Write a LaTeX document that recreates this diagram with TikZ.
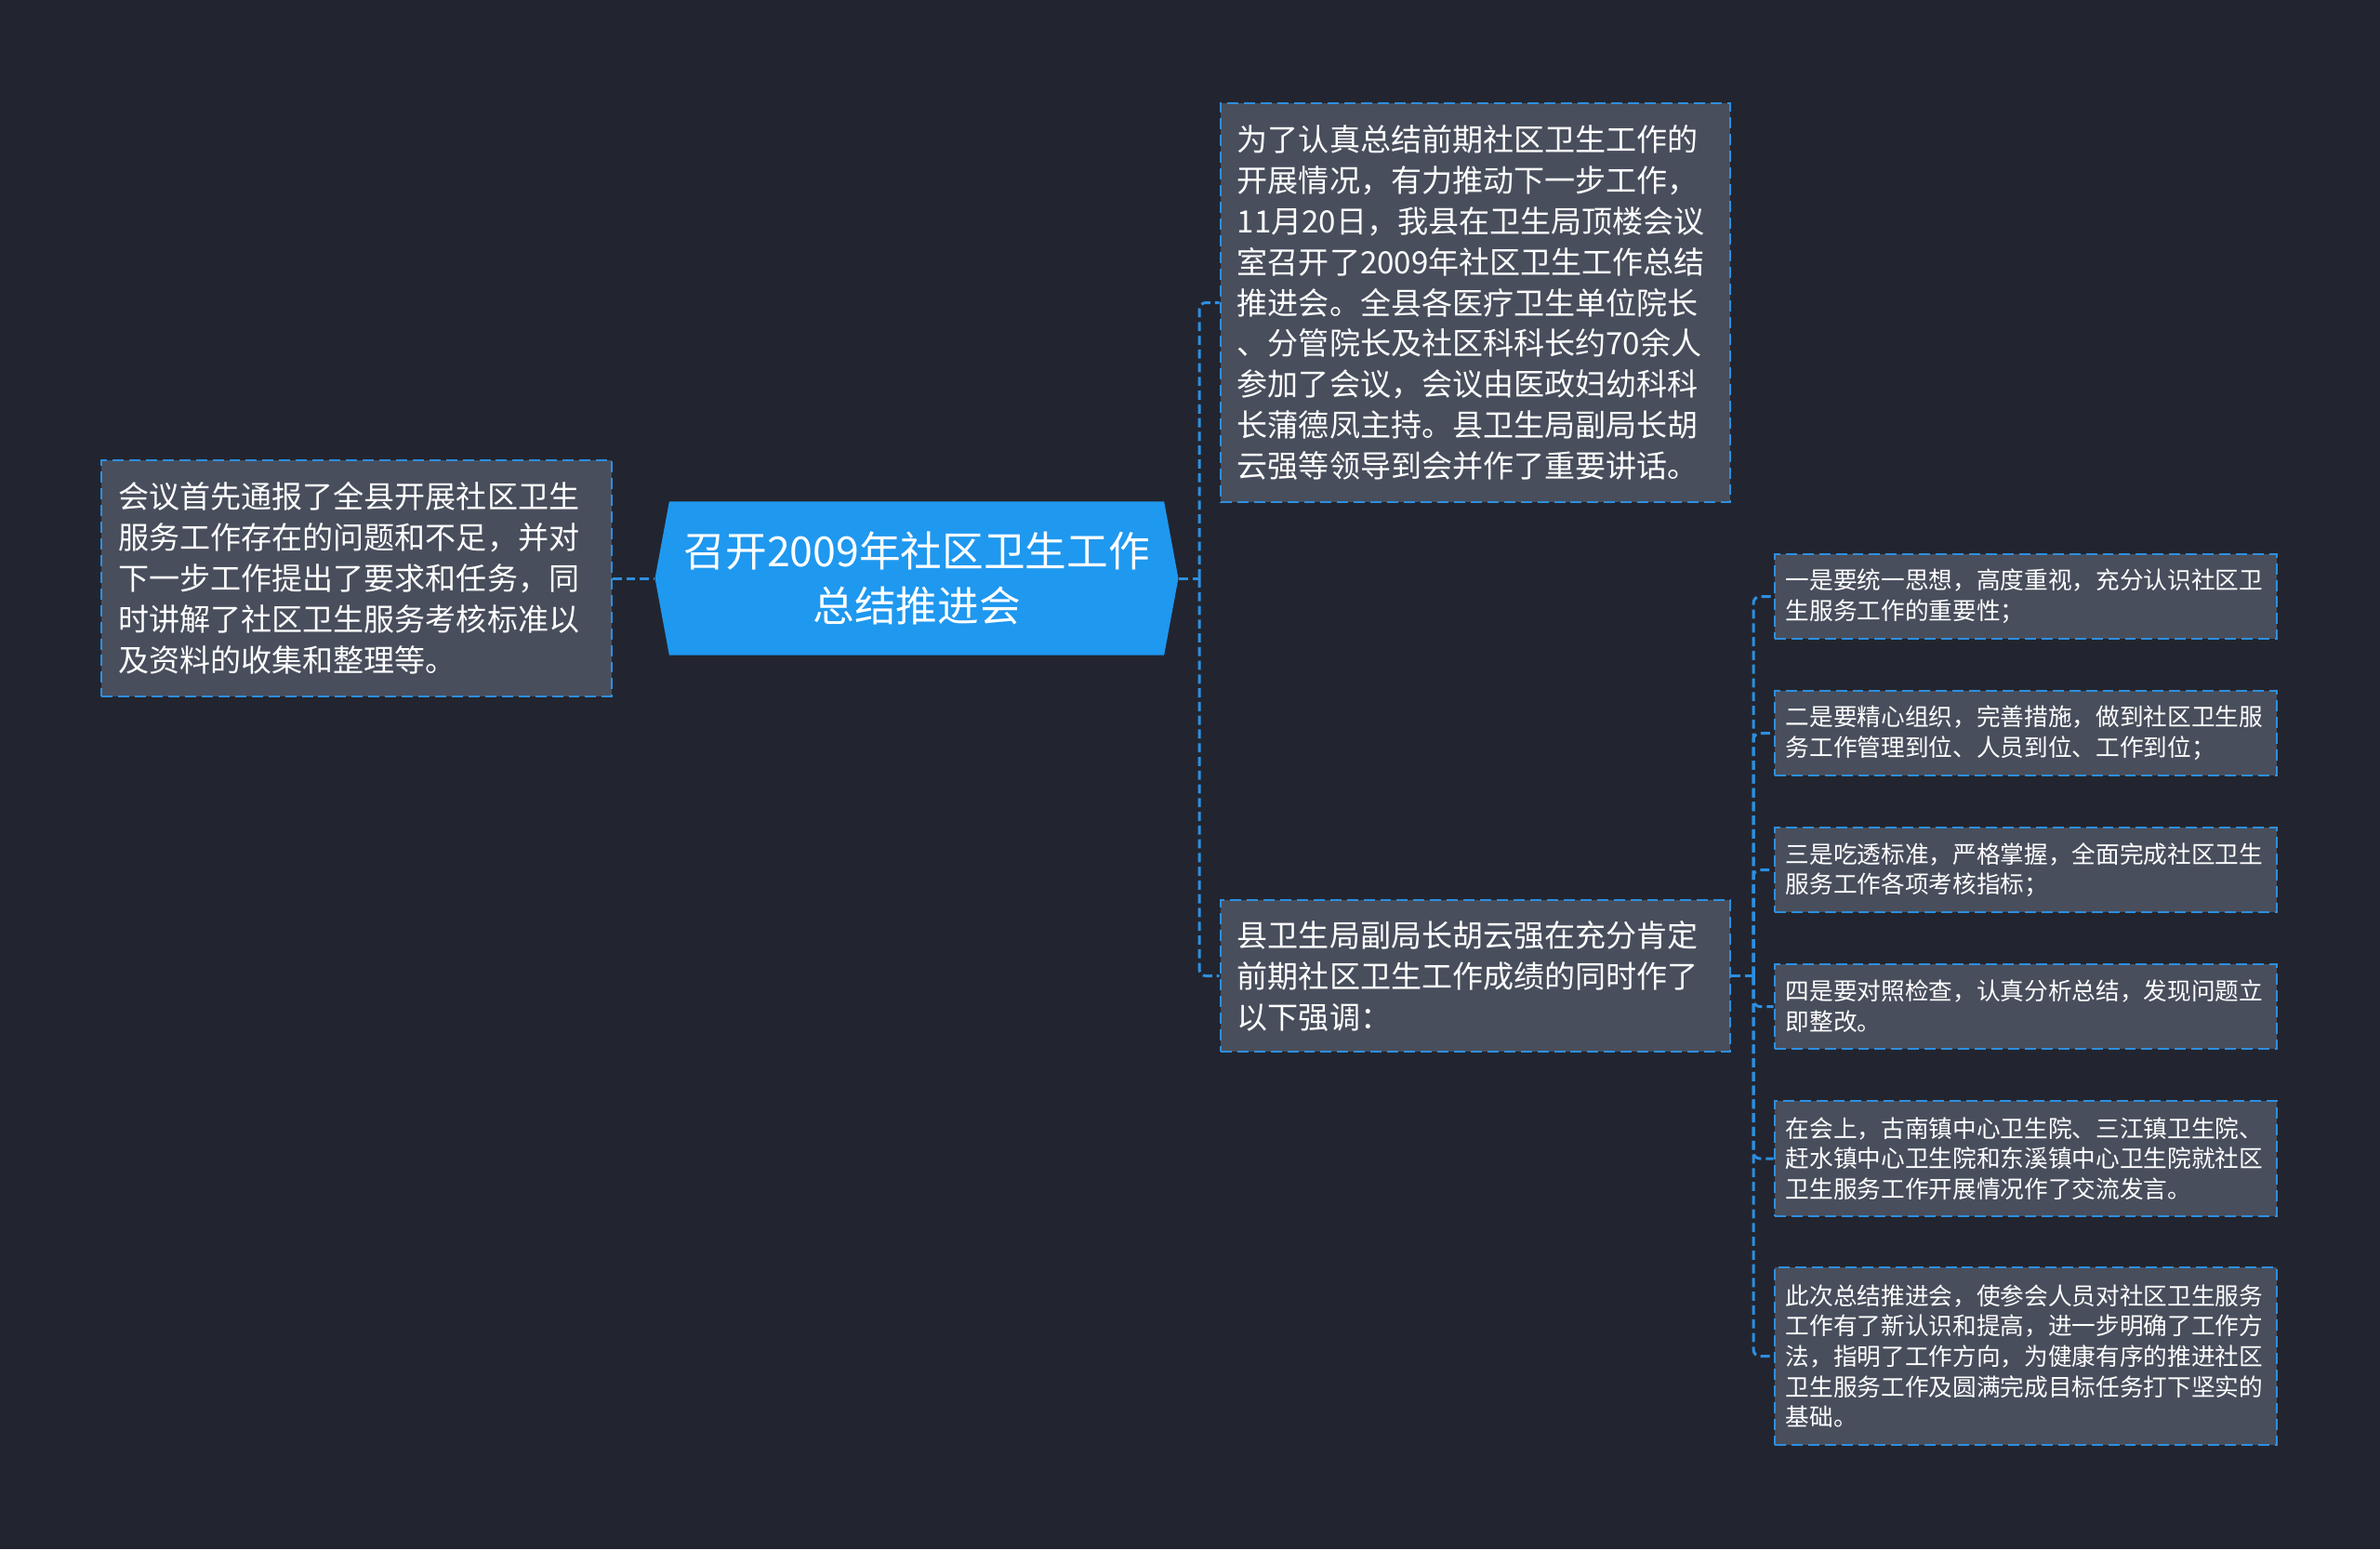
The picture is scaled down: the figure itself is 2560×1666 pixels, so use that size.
\documentclass[tikz,border=0pt]{standalone}
\usepackage{fontspec}
\setmainfont{Noto Sans CJK SC}
\usepackage{tikz}
\usetikzlibrary{shapes.symbols}
\definecolor{bgdark}{HTML}{22252F}
\definecolor{boxgray}{HTML}{484E5C}
\definecolor{linkblue}{HTML}{2D8FE0}
\definecolor{topicblue}{HTML}{1F98EF}

\tikzset{
  leaf/.style={draw=linkblue, fill=boxgray, text=white, line width=0.65pt,
    dash pattern=on 3.4pt off 1.7pt, align=left, inner xsep=0.18cm, inner ysep=0pt,
    text width=5.12cm, font=\fontsize{9.4}{12.5}\selectfont},
  smallleaf/.style={leaf, inner xsep=0.12cm, text width=5.16cm,
    font=\fontsize{7.3}{9.3}\selectfont},
  link/.style={draw=linkblue, line width=0.85pt, dash pattern=on 2.8pt off 1.4pt, rounded corners=2pt}
}

\begin{document}
\begin{tikzpicture}[x=0.01cm, y=-0.01cm]
  \fill[bgdark] (0,0) rectangle (2560,1666);
  \useasboundingbox (0,0) rectangle (2560,1666);

  \node[shape=signal, signal to=east and west, signal pointer angle=159, fill=topicblue, text=white,
    align=center, text width=5.0cm, inner xsep=0.16cm, minimum height=1.65cm,
    font=\fontsize{12.7}{17}\selectfont] (topic) at (986,622) {召开2009年社区卫生工作\\总结推进会};

  \node[leaf, minimum height=2.54cm] (b0) at (383.5,622) {会议首先通报了全县开展社区卫生\\服务工作存在的问题和不足，并对\\下一步工作提出了要求和任务，同\\时讲解了社区卫生服务考核标准以\\及资料的收集和整理等。};
  \node[leaf, minimum height=4.29cm] (b1) at (1587,325.5) {为了认真总结前期社区卫生工作的\\开展情况，有力推动下一步工作，\\11月20日，我县在卫生局顶楼会议\\室召开了2009年社区卫生工作总结\\推进会。全县各医疗卫生单位院长\\、分管院长及社区科科长约70余人\\参加了会议，会议由医政妇幼科科\\长蒲德凤主持。县卫生局副局长胡\\云强等领导到会并作了重要讲话。};
  \node[leaf, minimum height=1.63cm] (b2) at (1587,1049.5) {县卫生局副局长胡云强在充分肯定\\前期社区卫生工作成绩的同时作了\\以下强调：};

  \node[smallleaf, minimum height=0.91cm] (r1) at (2179,641.5) {一是要统一思想，高度重视，充分认识社区卫\\生服务工作的重要性；};
  \node[smallleaf, minimum height=0.91cm] (r2) at (2179,788.5) {二是要精心组织，完善措施，做到社区卫生服\\务工作管理到位、人员到位、工作到位；};
  \node[smallleaf, minimum height=0.91cm] (r3) at (2179,935.5) {三是吃透标准，严格掌握，全面完成社区卫生\\服务工作各项考核指标；};
  \node[smallleaf, minimum height=0.91cm] (r4) at (2179,1082.5) {四是要对照检查，认真分析总结，发现问题立\\即整改。};
  \node[smallleaf, minimum height=1.24cm] (r5) at (2179,1246) {在会上，古南镇中心卫生院、三江镇卫生院、\\赶水镇中心卫生院和东溪镇中心卫生院就社区\\卫生服务工作开展情况作了交流发言。};
  \node[smallleaf, minimum height=1.91cm] (r6) at (2179,1458.5) {此次总结推进会，使参会人员对社区卫生服务\\工作有了新认识和提高，进一步明确了工作方\\法，指明了工作方向，为健康有序的推进社区\\卫生服务工作及圆满完成目标任务打下坚实的\\基础。};

  \coordinate (j1) at (1290,622);
  \coordinate (j2) at (1886,1049.5);

  \draw[link] (b0.east) -- (topic.west);
  \draw[link] (topic.east) -- (j1);
  \draw[link] (j1) |- (b1.west);
  \draw[link] (j1) |- (b2.west);
  \draw[link] (b2.east) -- (j2);
  \foreach \r in {r1,r2,r3,r4,r5,r6}
    \draw[link] (j2) |- (\r.west);
\end{tikzpicture}
\end{document}
